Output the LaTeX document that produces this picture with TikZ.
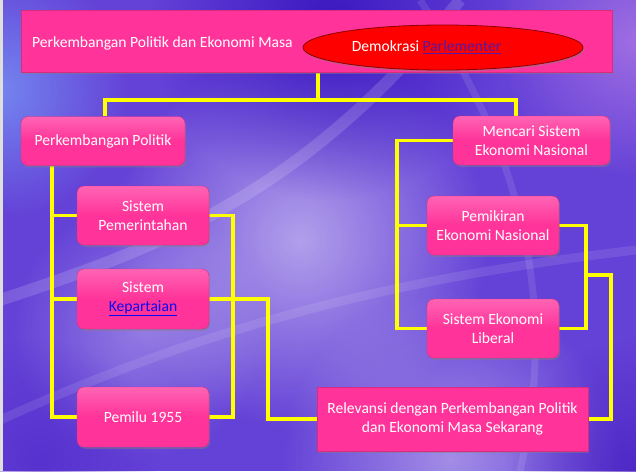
\documentclass[tikz,border=0pt]{standalone}
\usepackage{fontspec}
\setmainfont{Carlito}
\usetikzlibrary{shadows,shapes.geometric,calc,fadings}
\pgfdeclarelayer{bg}
\pgfdeclarelayer{lines}
\pgfsetlayers{bg,lines,main}
\definecolor{boxpink}{RGB}{255,51,153}
\definecolor{boxtop}{RGB}{255,100,180}
\definecolor{linkblue}{RGB}{10,10,240}
\definecolor{linkpurple}{RGB}{85,25,165}
\definecolor{bgbase}{RGB}{100,65,215}
\definecolor{conn}{RGB}{255,255,0}
\definecolor{deepviolet}{RGB}{55,20,190}
\definecolor{skyblue}{RGB}{120,150,245}
\definecolor{pinkhaze}{RGB}{200,140,235}
\definecolor{darkviolet}{RGB}{70,30,190}
\definecolor{darkviolet2}{RGB}{80,40,200}
\tikzfading[name=softspot, inner color=transparent!0, outer color=transparent!100]
\tikzset{
  txt/.style={text=white,font=\fontsize{15.6}{19}\selectfont,align=center},
  rbox/.style={txt,rectangle,rounded corners=7pt,top color=boxtop,bottom color=boxpink,middle color=boxpink,
    draw=boxpink!85!black,line width=0.4pt,inner sep=0pt,
    drop shadow={shadow xshift=1.2pt,shadow yshift=-1.8pt,opacity=0.45}},
  sbox/.style={txt,rectangle,fill=boxpink,draw=boxpink!85!black,line width=0.4pt,inner sep=0pt,
    drop shadow={shadow xshift=1.2pt,shadow yshift=-1.8pt,opacity=0.45}},
  link/.style={line width=3.2pt,draw=conn},
  spot/.style={path fading=softspot},
}
\begin{document}
\begin{tikzpicture}[x=1pt,y=-1pt]
\useasboundingbox (0,0) rectangle (636,471);
\begin{pgfonlayer}{bg}
  \fill[bgbase] (0,0) rectangle (636,471);
  \begin{scope}
    \clip (0,0) rectangle (636,471);
    \fill[white,spot,opacity=0.5] (300,240) circle (190);
    \fill[white,spot,opacity=0.4] (450,460) circle (170);
    \fill[white,spot,opacity=0.3] (140,330) circle (130);
    \fill[deepviolet,spot,opacity=0.9] (330,20) circle (180);
    \fill[skyblue,spot,opacity=0.8] (0,90) circle (130);
    \fill[pinkhaze,spot,opacity=0.6] (636,40) circle (140);
    \fill[darkviolet,spot,opacity=0.7] (636,470) circle (130);
    \fill[darkviolet2,spot,opacity=0.6] (40,460) circle (120);
    \draw[white,opacity=0.15,line width=12pt] (0,300) .. controls (150,250) and (300,200) .. (460,0);
    \draw[white,opacity=0.10,line width=7pt] (420,0) .. controls (520,150) and (560,300) .. (520,471);
    \draw[white,opacity=0.10,line width=9pt] (0,420) .. controls (200,330) and (380,280) .. (636,250);
  \end{scope}
  \fill[gray!25] (0,0) rectangle (3,471);
\end{pgfonlayer}

% nodes
\node[sbox,minimum width=591pt,minimum height=62pt] (banner) at (316.5,41) {};
\node[txt,anchor=west,inner sep=0pt] (bannertxt) at (32,43) {Perkembangan Politik dan Ekonomi Masa};
\node[ellipse,fill=red,draw=red!55!black,line width=0.8pt,minimum width=280pt,minimum height=45pt,inner sep=0pt,
  drop shadow={shadow xshift=1.2pt,shadow yshift=-1.8pt,opacity=0.45}] (demo) at (443,47.5) {};
\node[txt,inner sep=0pt] (demotxt) at (426.5,47.5) {Demokrasi \textcolor{linkpurple}{\underline{Parlementer}}};

\node[rbox,minimum width=164pt,minimum height=49pt] (pp) at (103,141) {Perkembangan Politik};
\node[rbox,minimum width=157pt,minimum height=49pt] (mc) at (531.5,140.5) {Mencari Sistem\\Ekonomi Nasional};
\node[rbox,minimum width=132pt,minimum height=59pt] (sp) at (143,215.5) {Sistem\\Pemerintahan};
\node[rbox,minimum width=132pt,minimum height=60pt] (sk) at (143,299) {Sistem\\\textcolor{linkblue}{\underline{Kepartaian}}};
\node[rbox,minimum width=132pt,minimum height=60pt] (pm) at (143,417) {Pemilu 1955};
\node[rbox,minimum width=132pt,minimum height=59pt] (pe) at (493,225.5) {Pemikiran\\Ekonomi Nasional};
\node[rbox,minimum width=132pt,minimum height=59pt] (sl) at (493,328.5) {Sistem Ekonomi\\Liberal};
\node[sbox,minimum width=271pt,minimum height=64pt] (rel) at (452.5,419) {Relevansi dengan Perkembangan Politik\\dan Ekonomi Masa Sekarang};

% junction coordinates
\coordinate (j1) at (318,100);
\coordinate (jl) at (105,100);
\coordinate (jr) at (516,100);
\coordinate (lv) at (52,0);
\coordinate (rv) at (233,0);
\coordinate (rv2) at (268,0);
\coordinate (mv) at (397,0);
\coordinate (pv) at (586,0);
\coordinate (qv) at (611,275);

\begin{pgfonlayer}{lines}
  \draw[link] (banner.south -| j1) -- (j1);
  \draw[link] (pp.north -| jl) -- (jl) -- (jr) -- (mc.north -| jr);
  \draw[link] (pp.south -| lv) -- (lv |- pm.west) -- (pm.west);
  \draw[link] (lv |- sp.west) -- (sp.west);
  \draw[link] (lv |- sk.west) -- (sk.west);
  \draw[link] (sp.east) -| (rv |- pm.east) -- (pm.east);
  \draw[link] (sk.east) -| (rv2 |- rel.west) -- (rel.west);
  \draw[link] (mc.west) -| (mv |- sl.west) -- (sl.west);
  \draw[link] (mv |- pe.west) -- (pe.west);
  \draw[link] (pe.east) -| (pv |- sl.east) -- (sl.east);
  \draw[link] (pv |- qv) -- (qv) |- (rel.east);
\end{pgfonlayer}
\end{tikzpicture}
\end{document}
